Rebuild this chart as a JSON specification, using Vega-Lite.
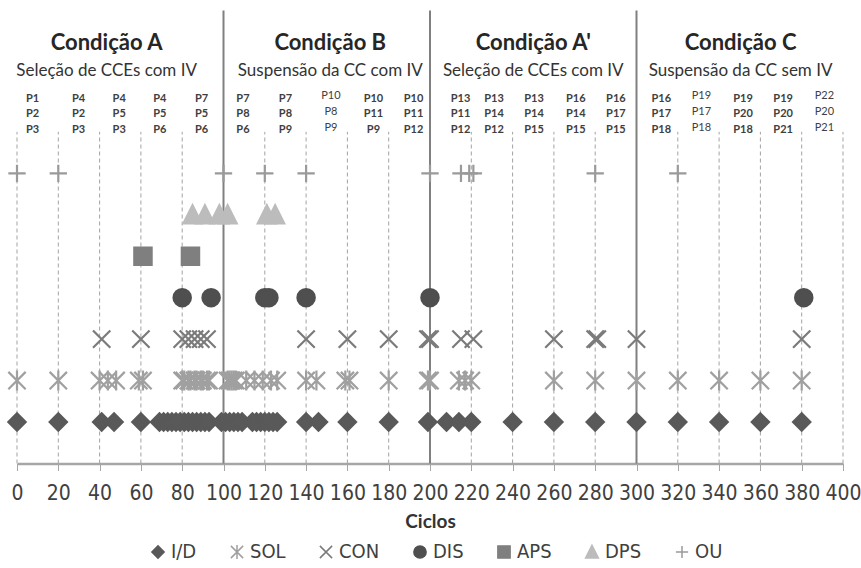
{
  "$schema": "https://vega.github.io/schema/vega-lite/v6.json",
  "width": 826,
  "height": 456,
  "autosize": {"type": "none"},
  "padding": {"left": 17, "top": 7.5, "right": 18, "bottom": 104.5},
  "background": "white",
  "config": {"view": {"stroke": null}, "font": "Lato"},
  "datasets": {
    "events": [
      {"c": "I/D", "x": 0}, {"c": "I/D", "x": 20}, {"c": "I/D", "x": 41}, {"c": "I/D", "x": 47}, {"c": "I/D", "x": 60},
      {"c": "I/D", "x": 69}, {"c": "I/D", "x": 71}, {"c": "I/D", "x": 73}, {"c": "I/D", "x": 75}, {"c": "I/D", "x": 77},
      {"c": "I/D", "x": 79}, {"c": "I/D", "x": 81}, {"c": "I/D", "x": 83}, {"c": "I/D", "x": 85}, {"c": "I/D", "x": 87},
      {"c": "I/D", "x": 89}, {"c": "I/D", "x": 91}, {"c": "I/D", "x": 93}, {"c": "I/D", "x": 99}, {"c": "I/D", "x": 101},
      {"c": "I/D", "x": 103}, {"c": "I/D", "x": 105}, {"c": "I/D", "x": 107}, {"c": "I/D", "x": 109}, {"c": "I/D", "x": 114},
      {"c": "I/D", "x": 116}, {"c": "I/D", "x": 118}, {"c": "I/D", "x": 120}, {"c": "I/D", "x": 122}, {"c": "I/D", "x": 124},
      {"c": "I/D", "x": 126}, {"c": "I/D", "x": 140}, {"c": "I/D", "x": 146}, {"c": "I/D", "x": 160}, {"c": "I/D", "x": 180},
      {"c": "I/D", "x": 199}, {"c": "I/D", "x": 208}, {"c": "I/D", "x": 214}, {"c": "I/D", "x": 220}, {"c": "I/D", "x": 240},
      {"c": "I/D", "x": 260}, {"c": "I/D", "x": 280}, {"c": "I/D", "x": 300}, {"c": "I/D", "x": 320}, {"c": "I/D", "x": 340},
      {"c": "I/D", "x": 360}, {"c": "I/D", "x": 380},
      {"c": "SOL", "x": 0}, {"c": "SOL", "x": 20}, {"c": "SOL", "x": 40}, {"c": "SOL", "x": 44}, {"c": "SOL", "x": 48},
      {"c": "SOL", "x": 59}, {"c": "SOL", "x": 61}, {"c": "SOL", "x": 80}, {"c": "SOL", "x": 81}, {"c": "SOL", "x": 83},
      {"c": "SOL", "x": 84}, {"c": "SOL", "x": 86}, {"c": "SOL", "x": 87}, {"c": "SOL", "x": 89}, {"c": "SOL", "x": 90},
      {"c": "SOL", "x": 92}, {"c": "SOL", "x": 93}, {"c": "SOL", "x": 102}, {"c": "SOL", "x": 103}, {"c": "SOL", "x": 104},
      {"c": "SOL", "x": 105}, {"c": "SOL", "x": 106}, {"c": "SOL", "x": 111}, {"c": "SOL", "x": 115}, {"c": "SOL", "x": 119},
      {"c": "SOL", "x": 123}, {"c": "SOL", "x": 126}, {"c": "SOL", "x": 140}, {"c": "SOL", "x": 145}, {"c": "SOL", "x": 159},
      {"c": "SOL", "x": 161}, {"c": "SOL", "x": 180}, {"c": "SOL", "x": 199}, {"c": "SOL", "x": 200}, {"c": "SOL", "x": 214},
      {"c": "SOL", "x": 217}, {"c": "SOL", "x": 220}, {"c": "SOL", "x": 260}, {"c": "SOL", "x": 280}, {"c": "SOL", "x": 300},
      {"c": "SOL", "x": 320}, {"c": "SOL", "x": 340}, {"c": "SOL", "x": 360}, {"c": "SOL", "x": 380},
      {"c": "CON", "x": 41}, {"c": "CON", "x": 60}, {"c": "CON", "x": 80}, {"c": "CON", "x": 83}, {"c": "CON", "x": 86},
      {"c": "CON", "x": 89}, {"c": "CON", "x": 92}, {"c": "CON", "x": 140}, {"c": "CON", "x": 160}, {"c": "CON", "x": 180},
      {"c": "CON", "x": 199}, {"c": "CON", "x": 200}, {"c": "CON", "x": 215}, {"c": "CON", "x": 221}, {"c": "CON", "x": 260},
      {"c": "CON", "x": 280}, {"c": "CON", "x": 281}, {"c": "CON", "x": 300}, {"c": "CON", "x": 380},
      {"c": "DIS", "x": 80}, {"c": "DIS", "x": 94}, {"c": "DIS", "x": 120}, {"c": "DIS", "x": 122}, {"c": "DIS", "x": 140},
      {"c": "DIS", "x": 200}, {"c": "DIS", "x": 381},
      {"c": "APS", "x": 61}, {"c": "APS", "x": 84},
      {"c": "DPS", "x": 85}, {"c": "DPS", "x": 91}, {"c": "DPS", "x": 98}, {"c": "DPS", "x": 102}, {"c": "DPS", "x": 121},
      {"c": "DPS", "x": 125},
      {"c": "OU", "x": 0}, {"c": "OU", "x": 20}, {"c": "OU", "x": 100}, {"c": "OU", "x": 120}, {"c": "OU", "x": 140},
      {"c": "OU", "x": 200}, {"c": "OU", "x": 215}, {"c": "OU", "x": 219}, {"c": "OU", "x": 221}, {"c": "OU", "x": 280},
      {"c": "OU", "x": 320}
    ],
    "grid": [
      {"x": 0}, {"x": 20}, {"x": 40}, {"x": 60}, {"x": 80}, {"x": 120}, {"x": 140}, {"x": 160}, {"x": 180},
      {"x": 220}, {"x": 240}, {"x": 260}, {"x": 280}, {"x": 320}, {"x": 340}, {"x": 360}, {"x": 380}, {"x": 400}
    ],
    "phases": [{"x": 100}, {"x": 200}, {"x": 300}],
    "conditions": [
      {"x": 43.4, "title": "Condição A", "sub": "Seleção de CCEs com IV"},
      {"x": 151.7, "title": "Condição B", "sub": "Suspensão da CC com IV"},
      {"x": 250, "title": "Condição A'", "sub": "Seleção de CCEs com IV"},
      {"x": 350.4, "title": "Condição C", "sub": "Suspensão da CC sem IV"}
    ],
    "cols": [
      {"id": "A1", "x": 7.5, "l1": "P1", "l2": "P2", "l3": "P3"},
      {"id": "A2", "x": 29.8, "l1": "P4", "l2": "P2", "l3": "P3"},
      {"id": "A3", "x": 49.5, "l1": "P4", "l2": "P5", "l3": "P3"},
      {"id": "A4", "x": 69.2, "l1": "P4", "l2": "P5", "l3": "P6"},
      {"id": "A5", "x": 89.4, "l1": "P7", "l2": "P5", "l3": "P6"},
      {"id": "B1", "x": 109.4, "l1": "P7", "l2": "P8", "l3": "P6"},
      {"id": "B2", "x": 130, "l1": "P7", "l2": "P8", "l3": "P9"},
      {"id": "B3", "x": 152, "l1": "P10", "l2": "P8", "l3": "P9"},
      {"id": "B4", "x": 172.6, "l1": "P10", "l2": "P11", "l3": "P9"},
      {"id": "B5", "x": 192, "l1": "P10", "l2": "P11", "l3": "P12"},
      {"id": "A'1", "x": 214.8, "l1": "P13", "l2": "P11", "l3": "P12"},
      {"id": "A'2", "x": 231, "l1": "P13", "l2": "P14", "l3": "P12"},
      {"id": "A'3", "x": 250.4, "l1": "P13", "l2": "P14", "l3": "P15"},
      {"id": "A'4", "x": 270.6, "l1": "P16", "l2": "P14", "l3": "P15"},
      {"id": "A'5", "x": 290, "l1": "P16", "l2": "P17", "l3": "P15"},
      {"id": "C1", "x": 312, "l1": "P16", "l2": "P17", "l3": "P18"},
      {"id": "C2", "x": 331.4, "l1": "P19", "l2": "P17", "l3": "P18"},
      {"id": "C3", "x": 351.6, "l1": "P19", "l2": "P20", "l3": "P18"},
      {"id": "C4", "x": 371, "l1": "P19", "l2": "P20", "l3": "P21"},
      {"id": "C5", "x": 391, "l1": "P22", "l2": "P20", "l3": "P21"}
    ]
  },
  "layer": [
    {
      "data": {"name": "grid"},
      "mark": {"type": "rule", "strokeDash": [4, 3], "color": "#a3a3a3", "strokeWidth": 1},
      "encoding": {
        "x": {
          "field": "x", "type": "quantitative",
          "scale": {"domain": [0, 400], "nice": false, "zero": false},
          "axis": {
            "values": [0, 20, 40, 60, 80, 100, 120, 140, 160, 180, 200, 220, 240, 260, 280, 300, 320, 340, 360, 380, 400],
            "title": "Ciclos", "grid": false,
            "domainColor": "#a6a6a6", "domainWidth": 2.5,
            "tickColor": "#a6a6a6", "tickWidth": 1, "tickSize": 7,
            "labelFont": "Liberation Sans Narrow, DejaVu Sans Condensed, Lato",
            "labelFontSize": 21, "labelColor": "#404040", "labelPadding": 12,
            "labelFlush": false, "labelOverlap": false,
            "titleFont": "Lato", "titleFontWeight": "bold", "titleFontSize": 19,
            "titleColor": "#333333", "titlePadding": 9
          }
        },
        "y": {"datum": 0, "type": "quantitative", "scale": {"domain": [0, 11], "nice": false}, "axis": null},
        "y2": {"datum": 8}
      }
    },
    {
      "data": {"name": "phases"},
      "mark": {"type": "rule", "color": "#808080", "strokeWidth": 2},
      "encoding": {
        "x": {"field": "x", "type": "quantitative"},
        "y": {"datum": 0, "type": "quantitative", "scale": {"domain": [0, 11], "nice": false}, "axis": null},
        "y2": {"datum": 10.93}
      }
    },
    {
      "data": {"name": "events"},
      "mark": {"type": "point", "filled": true, "strokeWidth": 2.2, "opacity": 1, "size": 300},
      "encoding": {
        "x": {"field": "x", "type": "quantitative"},
        "y": {
          "field": "c", "type": "nominal", "axis": null,
          "scale": {"type": "point", "domain": ["OU", "DPS", "APS", "DIS", "CON", "SOL", "I/D"], "padding": 0, "range": [165.8, 414.5]}
        },
        "shape": {
          "field": "c", "type": "nominal",
          "scale": {
            "domain": ["I/D", "SOL", "CON", "DIS", "APS", "DPS", "OU"],
            "range": ["diamond", "M-1,-1L1,1M-1,1L1,-1M0,-1.15L0,1.15", "M-1,-1L1,1M-1,1L1,-1", "circle", "square", "M0,-1.1L1.05,1L-1.05,1Z", "M-1,0L1,0M0,-1L0,1"]
          },
          "legend": {
            "title": null, "orient": "none", "legendX": 131, "legendY": 534, "direction": "horizontal",
            "labelFont": "Liberation Sans Narrow, DejaVu Sans Condensed, Lato",
            "labelFontSize": 20, "labelColor": "#404040", "symbolSize": 150, "symbolStrokeWidth": 1.5,
            "columnPadding": 30, "labelOffset": 3
          }
        },
        "color": {
          "field": "c", "type": "nominal",
          "scale": {
            "domain": ["I/D", "SOL", "CON", "DIS", "APS", "DPS", "OU"],
            "range": ["#595959", "#a0a0a0", "#7b7b7b", "#4f4f4f", "#7f7f7f", "#bcbcbc", "#9a9a9a"]
          },
          "legend": {
            "title": null, "orient": "none", "legendX": 131, "legendY": 534, "direction": "horizontal",
            "labelFont": "Liberation Sans Narrow, DejaVu Sans Condensed, Lato",
            "labelFontSize": 20, "labelColor": "#404040", "symbolSize": 150, "symbolStrokeWidth": 1.5,
            "columnPadding": 30, "labelOffset": 3
          }
        },
        "stroke": {
          "field": "c", "type": "nominal",
          "scale": {
            "domain": ["I/D", "SOL", "CON", "DIS", "APS", "DPS", "OU"],
            "range": ["#595959", "#a0a0a0", "#7b7b7b", "#4f4f4f", "#7f7f7f", "#bcbcbc", "#9a9a9a"]
          },
          "legend": {
            "title": null, "orient": "none", "legendX": 131, "legendY": 534, "direction": "horizontal",
            "labelFont": "Liberation Sans Narrow, DejaVu Sans Condensed, Lato",
            "labelFontSize": 20, "labelColor": "#404040", "symbolSize": 150, "symbolStrokeWidth": 1.5,
            "columnPadding": 30, "labelOffset": 3
          }
        }
      }
    },
    {
      "data": {"name": "conditions"},
      "mark": {"type": "text", "font": "Lato", "fontWeight": "bold", "fontSize": 22, "color": "#262626", "align": "center", "baseline": "alphabetic"},
      "encoding": {
        "x": {"field": "x", "type": "quantitative"},
        "y": {"datum": 9.976, "type": "quantitative", "scale": {"domain": [0, 11], "nice": false}, "axis": null},
        "text": {"field": "title"}
      }
    },
    {
      "data": {"name": "conditions"},
      "mark": {"type": "text", "font": "Lato", "fontSize": 17, "color": "#333333", "align": "center", "baseline": "alphabetic"},
      "encoding": {
        "x": {"field": "x", "type": "quantitative"},
        "y": {"datum": 9.35, "type": "quantitative", "scale": {"domain": [0, 11], "nice": false}, "axis": null},
        "text": {"field": "sub"}
      }
    },
    {
      "data": {"name": "cols"},
      "transform": [{"filter": "indexof(['B3','C2','C5'], datum.id) < 0"}],
      "layer": [
        {
          "mark": {"type": "text", "font": "Lato", "fontWeight": "bold", "fontSize": 11, "color": "#404040", "align": "center", "baseline": "middle"},
          "encoding": {
            "x": {"field": "x", "type": "quantitative"},
            "y": {"datum": 8.794, "type": "quantitative", "scale": {"domain": [0, 11], "nice": false}, "axis": null},
            "text": {"field": "l1"}
          }
        },
        {
          "mark": {"type": "text", "font": "Lato", "fontWeight": "bold", "fontSize": 11, "color": "#404040", "align": "center", "baseline": "middle"},
          "encoding": {
            "x": {"field": "x", "type": "quantitative"},
            "y": {"datum": 8.42, "type": "quantitative", "scale": {"domain": [0, 11], "nice": false}, "axis": null},
            "text": {"field": "l2"}
          }
        },
        {
          "mark": {"type": "text", "font": "Lato", "fontWeight": "bold", "fontSize": 11, "color": "#404040", "align": "center", "baseline": "middle"},
          "encoding": {
            "x": {"field": "x", "type": "quantitative"},
            "y": {"datum": 8.046, "type": "quantitative", "scale": {"domain": [0, 11], "nice": false}, "axis": null},
            "text": {"field": "l3"}
          }
        }
      ]
    },
    {
      "data": {"name": "cols"},
      "transform": [{"filter": "indexof(['B3','C2','C5'], datum.id) >= 0"}],
      "layer": [
        {
          "mark": {"type": "text", "font": "Lato", "fontSize": 11, "color": "#404040", "align": "center", "baseline": "middle"},
          "encoding": {
            "x": {"field": "x", "type": "quantitative"},
            "y": {"datum": 8.86, "type": "quantitative", "scale": {"domain": [0, 11], "nice": false}, "axis": null},
            "text": {"field": "l1"}
          }
        },
        {
          "mark": {"type": "text", "font": "Lato", "fontSize": 11, "color": "#404040", "align": "center", "baseline": "middle"},
          "encoding": {
            "x": {"field": "x", "type": "quantitative"},
            "y": {"datum": 8.48, "type": "quantitative", "scale": {"domain": [0, 11], "nice": false}, "axis": null},
            "text": {"field": "l2"}
          }
        },
        {
          "mark": {"type": "text", "font": "Lato", "fontSize": 11, "color": "#404040", "align": "center", "baseline": "middle"},
          "encoding": {
            "x": {"field": "x", "type": "quantitative"},
            "y": {"datum": 8.1, "type": "quantitative", "scale": {"domain": [0, 11], "nice": false}, "axis": null},
            "text": {"field": "l3"}
          }
        }
      ]
    }
  ],
  "resolve": {"scale": {"y": "independent"}}
}
